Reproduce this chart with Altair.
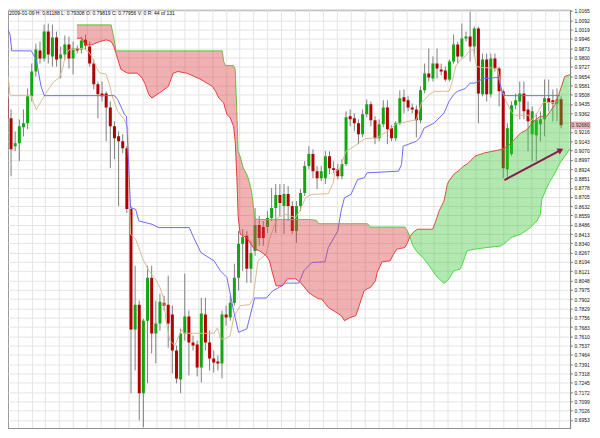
import altair as alt
import pandas as pd

TITLE = "2009-01-09 H: 0.81188 L: 0.79308 O: 0.79819 C: 0.77956 V: 0 R: 44 of 131"

OPEN = [0.9479,0.9322,0.9103,0.9126,0.9252,0.9283,0.9495,0.9690,0.9855,0.9792,
        1.0003,0.9808,0.9956,0.9792,0.9824,0.9902,0.9792,0.9870,0.9862,0.9940,
        0.9886,0.9752,0.9589,0.9518,0.9518,0.9408,0.9260,0.9181,0.9142,0.9087,
        0.8610,0.7663,0.7859,0.7163,0.7733,0.8070,0.7632,0.7710,0.7874,0.7859,
        0.7781,0.7499,0.7272,0.7632,0.7765,0.7561,0.7546,0.7365,0.7781,0.7561,
        0.7436,0.7412,0.7397,0.7781,0.7757,0.7874,0.8070,0.8337,0.8399,0.8140,
        0.8281,0.8485,0.8469,0.8469,0.8539,0.8618,0.8720,0.8634,0.8728,0.8634,
        0.8438,0.8634,0.8735,0.8947,0.9041,0.8907,0.8852,0.8852,0.9025,0.8931,
        0.8923,0.8868,0.8963,0.9338,0.9322,0.9283,0.9197,0.9354,0.9432,0.9307,
        0.9165,0.9276,0.9408,0.9244,0.9165,0.9283,0.9487,0.9464,0.9408,0.9392,
        0.9307,0.9542,0.9674,0.9635,0.9752,0.9705,0.9698,0.9627,0.9768,0.9902,
        0.9808,0.9948,0.9964,0.9886,1.0027,0.9511,0.9784,0.9511,0.9792,0.9713,
        0.9534,0.8923,0.9041,0.9424,0.9455,0.9518,0.9392,0.9197,0.9189,0.9276,
        0.9314,0.9479,0.9464,0.9439,0.9471]
HIGH = [0.9573,0.9392,0.9220,0.9314,0.9392,0.9557,0.9752,0.9909,0.9925,1.0059,
        1.0066,1.0059,1.0003,0.9886,0.9972,0.9964,0.9925,0.9894,0.9964,0.9980,
        0.9925,0.9784,0.9612,0.9612,0.9534,0.9455,0.9299,0.9220,0.9197,0.9103,
        0.8634,0.8164,0.7890,0.7749,0.8164,0.8164,0.7890,0.7945,0.7929,0.8086,
        0.7851,0.7538,0.7670,0.8102,0.7812,0.7616,0.7577,0.7913,0.7913,0.7655,
        0.7499,0.7460,0.7812,0.7851,0.7929,0.8180,0.8438,0.8453,0.8438,0.8360,
        0.8618,0.8555,0.8516,0.8594,0.8774,0.8806,0.8806,0.8806,0.8790,0.8673,
        0.8673,0.8766,0.8986,0.9103,0.9079,0.8947,0.8947,0.9064,0.9064,0.8986,
        0.8963,0.9001,0.9377,0.9392,0.9361,0.9314,0.9392,0.9471,0.9455,0.9338,
        0.9314,0.9464,0.9464,0.9268,0.9299,0.9542,0.9549,0.9495,0.9439,0.9424,
        0.9573,0.9752,0.9870,0.9808,0.9870,0.9752,0.9729,0.9784,0.9980,0.9925,
        1.0066,1.0003,1.0160,1.0043,1.0043,0.9831,0.9831,0.9831,0.9831,0.9729,
        0.9549,0.9283,0.9455,0.9518,0.9612,0.9612,0.9455,0.9416,0.9361,0.9377,
        0.9627,0.9627,0.9549,0.9557,0.9495]
LOW = [0.9260,0.8868,0.9064,0.8986,0.9181,0.9236,0.9455,0.9651,0.9752,0.9768,
       0.9752,0.9729,0.9729,0.9635,0.9784,0.9713,0.9667,0.9831,0.9831,0.9862,
       0.9729,0.9549,0.9322,0.9455,0.9142,0.8931,0.9001,0.8634,0.9048,0.8578,
       0.7163,0.7342,0.6951,0.6896,0.7241,0.7476,0.7397,0.7655,0.7812,0.7522,
       0.7319,0.7241,0.7163,0.7577,0.7303,0.7499,0.7295,0.7248,0.7499,0.7342,
       0.7326,0.7342,0.7279,0.7694,0.7733,0.7851,0.7968,0.8125,0.8030,0.8030,
       0.8242,0.8321,0.8321,0.8422,0.8516,0.8422,0.8555,0.8415,0.8516,0.8415,
       0.8344,0.8594,0.8712,0.8923,0.8852,0.8766,0.8829,0.8806,0.8884,0.8891,
       0.8844,0.8844,0.8947,0.9260,0.9220,0.9119,0.9173,0.9330,0.9260,0.9119,
       0.9142,0.9252,0.9119,0.9142,0.9142,0.9268,0.9361,0.9377,0.9361,0.9173,
       0.9283,0.9518,0.9612,0.9612,0.9635,0.9659,0.9612,0.9612,0.9752,0.9752,
       0.9792,0.9925,0.9768,0.9808,0.9283,0.9495,0.9455,0.9487,0.9690,0.9416,
       0.8852,0.8852,0.9025,0.9392,0.9314,0.9314,0.9064,0.8986,0.8986,0.9142,
       0.9181,0.9377,0.9299,0.9299,0.9244]
CLOSE = [0.9322,0.9079,0.9126,0.9260,0.9283,0.9495,0.9690,0.9862,0.9792,1.0003,
         0.9824,0.9956,0.9784,0.9824,0.9902,0.9792,0.9870,0.9855,0.9933,0.9894,
         0.9752,0.9589,0.9511,0.9495,0.9408,0.9260,0.9165,0.9142,0.9087,0.8610,
         0.7663,0.7859,0.7163,0.7733,0.8070,0.7632,0.7710,0.7882,0.7851,0.7710,
         0.7499,0.7279,0.7632,0.7765,0.7561,0.7538,0.7365,0.7789,0.7561,0.7436,
         0.7404,0.7397,0.7781,0.7757,0.7874,0.8070,0.8337,0.8391,0.8140,0.8265,
         0.8485,0.8383,0.8383,0.8539,0.8618,0.8720,0.8657,0.8728,0.8634,0.8438,
         0.8634,0.8735,0.8947,0.9041,0.8907,0.8852,0.8907,0.9025,0.8931,0.8916,
         0.8868,0.8963,0.9330,0.9314,0.9283,0.9197,0.9354,0.9432,0.9307,0.9165,
         0.9276,0.9408,0.9236,0.9165,0.9283,0.9479,0.9455,0.9408,0.9392,0.9307,
         0.9542,0.9674,0.9643,0.9752,0.9713,0.9690,0.9627,0.9768,0.9902,0.9808,
         0.9948,0.9964,0.9886,1.0027,0.9518,0.9784,0.9511,0.9792,0.9713,0.9534,
         0.8931,0.9244,0.9424,0.9464,0.9518,0.9377,0.9299,0.9377,0.9307,0.9314,
         0.9479,0.9447,0.9439,0.9471,0.9268]

KIJUN_X = [-0.43,0.76,1.16,5.9,7.08,8.26,9.04,26.0,26.8,28.4,28.9,29.9,31.1,31.9,35.1,36.7,
           44.1,45.3,46.9,50.1,51.6,53.2,54.8,56.0,58.0,59.9,62.7,64.3,65.8,67.4,70.6,71.8,
           73.7,76.9,77.7,80.0,80.8,81.6,83.2,84.8,86.4,87.1,94.7,95.4,95.8,99.0,99.8,100.9,
           103.3,105.7,106.9,108.0,108.9,110.8,112.0,113.2,115.1,118.7,119.1,119.9,120.7,133.7]
KIJUN_Y = [1.0068,0.9980,0.9852,0.9852,0.9784,0.9573,0.9500,0.9500,0.9469,0.9354,0.9338,0.8620,
           0.8608,0.8516,0.8490,0.8464,0.8464,0.8375,0.8268,0.8203,0.8125,0.8072,0.7812,0.7642,
           0.7668,0.7911,0.7911,0.7968,0.7994,0.8028,0.8028,0.8125,0.8190,0.8195,0.8307,0.8438,
           0.8594,0.8698,0.8725,0.8842,0.8855,0.8894,0.8907,0.8960,0.9103,0.9142,0.9168,0.9246,
           0.9285,0.9364,0.9455,0.9508,0.9534,0.9555,0.9599,0.9599,0.9633,0.9643,0.9612,0.9508,
           0.9500,0.9500]

TENKAN_X = [-0.43,0.36,0.76,1.16,5.9,7.08,8.26,9.44,11.4,12.6,13.4,14.2,15.0,18.5,19.7,20.5,
            21.7,22.5,24.0,24.8,25.6,26.8,28.4,29.2,29.9,31.1,31.9,32.7,34.3,35.9,37.0,37.8,
            38.6,39.4,40.6,42.2,43.0,50.1,50.9,51.6,52.8,54.0,54.8,56.4,58.7,59.5,60.7,62.7,
            63.5,65.4,67.4,69.8,71.0,72.2,73.7,77.7,78.9,79.3,80.4,82.0,84.0,85.6,86.7,89.5,
            91.9,94.2,99.0,100.2,102.1,103.3,106.9,107.7,108.5,109.6,110.8,112.0,112.8,113.6,
            114.8,117.9,118.7,119.5,120.7,121.9,122.7,126.2,126.7,128.2,129.7,132.9,133.7]
TENKAN_Y = [0.9716,0.9638,0.9508,0.9500,0.9500,0.9390,0.9455,0.9520,0.9612,0.9638,0.9703,0.9821,
            0.9860,0.9873,0.9847,0.9808,0.9716,0.9677,0.9669,0.9586,0.9481,0.9377,0.9312,0.9246,
            0.8412,0.8373,0.8307,0.8229,0.8125,0.8060,0.7994,0.7916,0.7708,0.7577,0.7538,0.7661,
            0.7634,0.7634,0.7676,0.7590,0.7590,0.7616,0.7759,0.7851,0.7859,0.7906,0.8203,0.8255,
            0.8373,0.8542,0.8568,0.8542,0.8608,0.8698,0.8725,0.8730,0.8816,0.8907,0.8923,0.9064,
            0.9103,0.9142,0.9163,0.9168,0.9220,0.9278,0.9312,0.9442,0.9508,0.9534,0.9534,0.9612,
            0.9729,0.9782,0.9808,0.9860,0.9860,0.9729,0.9721,0.9716,0.9706,0.9559,0.9455,0.9377,
            0.9346,0.9346,0.9299,0.9361,0.9447,0.9447,0.9479]

CLOUD_X = [16.92,18.11,18.91,20.47,22.46,24.02,25.21,25.85,26.39,27.57,29.16,31.53,32.71,33.49,
           34.30,35.08,36.26,37.44,39.03,40.21,41.40,43.76,46.91,49.68,50.46,51.24,52.05,52.43,
           52.83,53.23,54.01,54.79,55.20,55.60,55.91,56.38,57.16,57.96,58.34,59.15,59.53,59.93,
           61.11,62.70,63.48,64.26,65.07,66.63,67.81,69.80,70.98,72.95,74.84,75.31,76.09,77.68,
           80.83,81.63,82.82,84.38,86.37,87.15,87.93,89.11,89.51,90.70,92.66,93.47,94.25,96.21,
           96.85,97.40,98.20,98.98,99.38,100.57,102.13,102.93,103.72,104.50,105.68,106.49,106.86,
           108.05,109.63,110.41,111.22,111.60,113.18,115.55,119.50,121.07,121.87,122.65,124.24,
           125.80,126.60,127.39,128.17,128.97,129.35,130.53,131.34,132.52,133.70,134.89,136.07]
SPAN_G = [1.0056,1.0056,1.0056,1.0056,1.0056,1.0056,1.0056,0.9956,0.9852,0.9852,0.9852,0.9852,
          0.9852,0.9852,0.9852,0.9852,0.9852,0.9852,0.9852,0.9852,0.9852,0.9852,0.9852,0.9852,
          0.9852,0.9852,0.9852,0.9768,0.9737,0.9737,0.9737,0.9737,0.9706,0.9377,0.9064,0.9025,
          0.8933,0.8884,0.8855,0.8751,0.8649,0.8532,0.8528,0.8528,0.8528,0.8528,0.8528,0.8528,
          0.8528,0.8528,0.8528,0.8528,0.8522,0.8495,0.8495,0.8495,0.8495,0.8495,0.8495,0.8495,
          0.8495,0.8495,0.8469,0.8469,0.8469,0.8469,0.8469,0.8469,0.8469,0.8469,0.8438,0.8391,
          0.8320,0.8281,0.8266,0.8229,0.8164,0.8125,0.8086,0.8062,0.8025,0.8046,0.8060,0.8125,
          0.8138,0.8203,0.8281,0.8285,0.8295,0.8305,0.8320,0.8360,0.8385,0.8395,0.8412,0.8446,
          0.8464,0.8493,0.8516,0.8568,0.8686,0.8777,0.8829,0.8892,0.8970,0.9025,0.9080]
SPAN_R = [0.9951,0.9951,0.9899,0.9899,0.9925,0.9938,0.9925,0.9886,0.9831,0.9706,0.9677,0.9677,
          0.9638,0.9586,0.9508,0.9481,0.9508,0.9534,0.9573,0.9677,0.9690,0.9674,0.9627,0.9573,
          0.9534,0.9481,0.9455,0.9442,0.9393,0.9351,0.9325,0.9260,0.9142,0.8855,0.8555,0.8414,
          0.8399,0.8385,0.8367,0.8328,0.8307,0.8297,0.8281,0.8242,0.8203,0.8101,0.8007,0.8007,
          0.8062,0.8062,0.8033,0.7955,0.7913,0.7906,0.7903,0.7838,0.7773,0.7733,0.7755,0.7773,
          0.7968,0.7984,0.7994,0.8046,0.8111,0.8195,0.8203,0.8255,0.8295,0.8307,0.8344,0.8391,
          0.8425,0.8446,0.8451,0.8451,0.8451,0.8451,0.8516,0.8594,0.8673,0.8803,0.8829,0.8882,
          0.8921,0.8947,0.8962,0.8972,0.9025,0.9051,0.9077,0.9103,0.9129,0.9155,0.9207,0.9234,
          0.9267,0.9299,0.9318,0.9338,0.9338,0.9338,0.9377,0.9429,0.9534,0.9651,0.9664]
TWIST_X = 97.40

ARROW_X = [120.3, 133.9]
ARROW_Y = [0.8837, 0.9072]

Y_TICKS = [1.0238,1.0165,1.0092,1.0019,0.9946,0.9873,0.9800,0.9727,0.9654,0.9581,0.9508,
           0.9435,0.9362,0.9289,0.9216,0.9143,0.9070,0.8997,0.8924,0.8851,0.8778,0.8705,
           0.8632,0.8559,0.8486,0.8413,0.8340,0.8267,0.8194,0.8121,0.8048,0.7975,0.7902,
           0.7829,0.7756,0.7683,0.7610,0.7537,0.7464,0.7391,0.7318,0.7245,0.7172,0.7099,
           0.7026,0.6953,0.6880]
X_DOMAIN = [1.467, 134.96]
Y_DOMAIN = [0.6888, 1.0175]
GRID_X = [2.58 + 3.356 * k for k in range(40)]
HIDDEN_TICK = 0.9289

W, H = 564, 420
FONT = "Liberation Sans"

ticks_in = [v for v in Y_TICKS if Y_DOMAIN[0] <= v <= Y_DOMAIN[1]]
xs = alt.Scale(domain=X_DOMAIN, nice=False, zero=False)
ys = alt.Scale(domain=Y_DOMAIN, nice=False, zero=False)
x_axis = alt.Axis(values=GRID_X, grid=True, gridColor="#e4e4e4", ticks=False, labels=False,
                  domainColor="#808080", title=None)
y_axis = alt.Axis(orient="right", values=ticks_in, format=".4f", grid=True, gridColor="#e4e4e4",
                  labelFontSize=5, labelFont=FONT, labelColor="#111", tickSize=2,
                  tickColor="#666", domainColor="#808080", labelPadding=2, title=None,
                  labelExpr="abs(datum.value - %s) < 0.00001 ? '' : datum.label" % HIDDEN_TICK)


def X(field):
    return alt.X(field, type="quantitative", scale=xs, axis=x_axis)


def Y(field):
    return alt.Y(field, type="quantitative", scale=ys, axis=y_axis)


candles = pd.DataFrame({"i": list(range(len(OPEN))), "o": OPEN, "h": HIGH, "l": LOW, "c": CLOSE})
candles["dir"] = ["up" if c >= o else "down" for o, c in zip(OPEN, CLOSE)]
kijun = pd.DataFrame({"i": KIJUN_X, "p": KIJUN_Y})
tenkan = pd.DataFrame({"i": TENKAN_X, "p": TENKAN_Y})
cloud = pd.DataFrame({"i": CLOUD_X, "g": SPAN_G, "r": SPAN_R})
cloud_red = cloud[cloud["i"] <= TWIST_X]
cloud_green = cloud[cloud["i"] >= TWIST_X]
arrow = pd.DataFrame({"i": ARROW_X, "p": ARROW_Y})
last = pd.DataFrame({"p": [CLOSE[-1]], "t": ["%.5f" % CLOSE[-1]]})
title_df = pd.DataFrame({"t": [TITLE]})

wicks = alt.Chart(candles).mark_rule(color="#808080", strokeWidth=1, clip=True).encode(
    x=X("i"), y=Y("l"), y2="h")
bodies = alt.Chart(candles).mark_bar(size=3, clip=True).encode(
    x=X("i"), y=Y("o"), y2="c",
    color=alt.Color("dir:N", scale=alt.Scale(domain=["up", "down"], range=["#12a612", "#b00000"]),
                    legend=None))
tenkan_l = alt.Chart(tenkan).mark_line(color="#d8bb94", strokeWidth=1, clip=True).encode(
    x=X("i"), y=Y("p"))
kijun_l = alt.Chart(kijun).mark_line(color="#6b6bff", strokeWidth=1, clip=True).encode(
    x=X("i"), y=Y("p"))
g_line = alt.Chart(cloud).mark_line(color="#55dd44", strokeWidth=1, clip=True).encode(
    x=X("i"), y=Y("g"))
r_line = alt.Chart(cloud).mark_line(color="#ee3c3c", strokeWidth=1, clip=True).encode(
    x=X("i"), y=Y("r"))
red_fill = alt.Chart(cloud_red).mark_area(color="#d84545", opacity=0.42, clip=True).encode(
    x=X("i"), y=Y("g"), y2="r")
green_fill = alt.Chart(cloud_green).mark_area(color="#3cc83c", opacity=0.40, clip=True).encode(
    x=X("i"), y=Y("g"), y2="r")
arrow_l = alt.Chart(arrow).mark_line(color="#8b1a4f", strokeWidth=2).encode(x=X("i"), y=Y("p"))
arrow_h = alt.Chart(arrow.tail(1)).mark_point(shape="triangle-up", angle=62, size=45, filled=True,
                                               color="#8b1a4f", opacity=1).encode(x=X("i"), y=Y("p"))
box = alt.Chart(last).mark_point(shape="M -1 -0.32 L 1 -0.32 L 1 0.32 L -1 0.32 Z", size=361,
                                 filled=True, fill="#f6c9c9", stroke="#d46a6a", strokeWidth=0.6,
                                 opacity=1, clip=False).encode(x=alt.value(574.5), y=Y("p"))
box_t = alt.Chart(last).mark_text(fontSize=5, font=FONT, color="#222", align="center",
                                  baseline="middle", clip=False).encode(
    x=alt.value(574.5), y=Y("p"), text="t:N")
title_t = alt.Chart(title_df).mark_text(fontSize=5, font=FONT, color="#111", align="left",
                                        baseline="middle").encode(
    x=alt.value(1), y=alt.value(3), text="t:N")

chart = alt.layer(
    wicks, bodies, tenkan_l, kijun_l, g_line, r_line, red_fill, green_fill,
    arrow_l, arrow_h, box, box_t, title_t
).properties(
    width=W, height=H, padding=0, background="white"
).configure_view(stroke="#999", strokeWidth=1)

chart.save("out.html", embed_options={"renderer": "svg", "actions": False})
